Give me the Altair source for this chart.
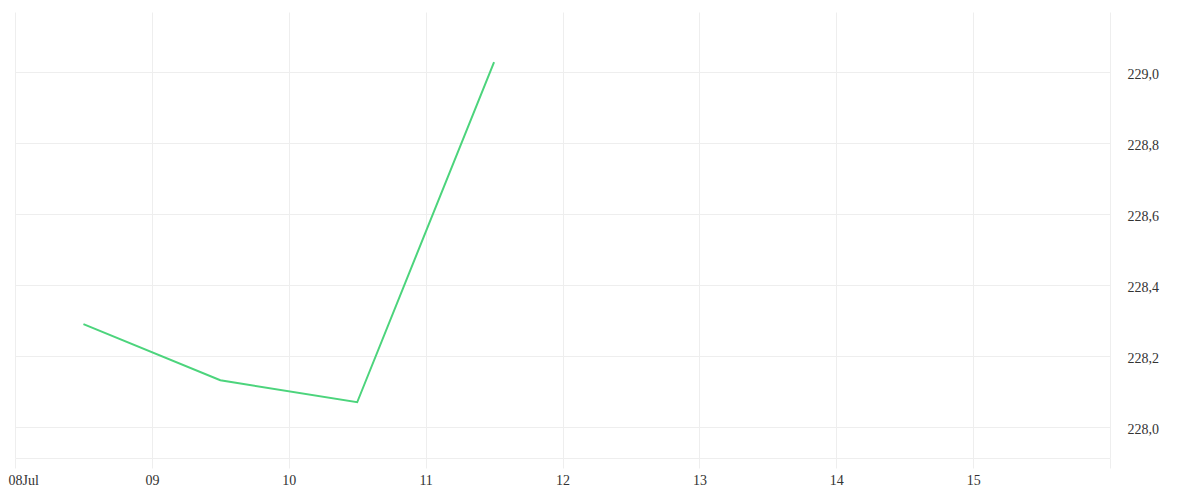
import altair as alt
import pandas as pd

dates = ["2024-07-08T12:00:00Z", "2024-07-09T12:00:00Z", "2024-07-10T12:00:00Z", "2024-07-11T12:00:00Z"]
values = [228.29, 228.132, 228.07, 229.028]

y_ticks = [228.0, 228.2, 228.4, 228.6, 228.8, 229.0]
day_ticks = [8, 9, 10, 11, 12, 13, 14, 15, 16]

df = pd.DataFrame({"date": dates, "value": values})

FONT = "Liberation Serif"
GRID = "#eeeeee"

x_values = [alt.DateTime(year=2024, month=7, date=d, utc=True) for d in day_ticks]

chart = alt.Chart(df).mark_line(color="#4cd47c", strokeWidth=2).encode(
    x=alt.X(
        "date:T",
        scale=alt.Scale(
            type="utc",
            domain=[alt.DateTime(year=2024, month=7, date=8, utc=True),
                    alt.DateTime(year=2024, month=7, date=16, utc=True)],
            nice=False,
        ),
        axis=alt.Axis(
            title=None,
            values=x_values,
            labelExpr="datum.index == 0 ? utcFormat(datum.value, '%d') + 'Jul' : (utcFormat(datum.value, '%d') == '16' ? '' : utcFormat(datum.value, '%d'))",
            grid=True,
            gridColor=GRID,
            tickColor=GRID,
            tickSize=10,
            domainColor=GRID,
            labelFont=FONT,
            labelFontSize=14,
            labelColor="#333333",
            labelPadding=5,
            labelAlign={"expr": "datum.index == 0 ? 'left' : 'center'"},
            labelOffset={"expr": "datum.index == 0 ? -7 : 0"},
            labelFlush=False,
            labelOverlap=False,
            labelBound=False,
        ),
    ),
    y=alt.Y(
        "value:Q",
        scale=alt.Scale(domain=[227.913, 229.169], nice=False, zero=False),
        axis=alt.Axis(
            title=None,
            orient="right",
            values=y_ticks,
            labelExpr="replace(format(datum.value, '.1f'), '.', ',')",
            grid=True,
            gridColor=GRID,
            ticks=False,
            domain=False,
            labelFont=FONT,
            labelFontSize=14,
            labelColor="#333333",
            labelPadding=17,
            labelBaseline="middle",
            labelOffset=2,
            labelOverlap=False,
        ),
    ),
).properties(
    width=1095,
    height=446,
    autosize=alt.AutoSizeParams(type="none"),
    padding={"left": 7, "top": 4, "right": 70, "bottom": 30},
).configure_view(strokeWidth=0)

chart.save("out.html", embed_options={"renderer": "svg", "actions": False})
